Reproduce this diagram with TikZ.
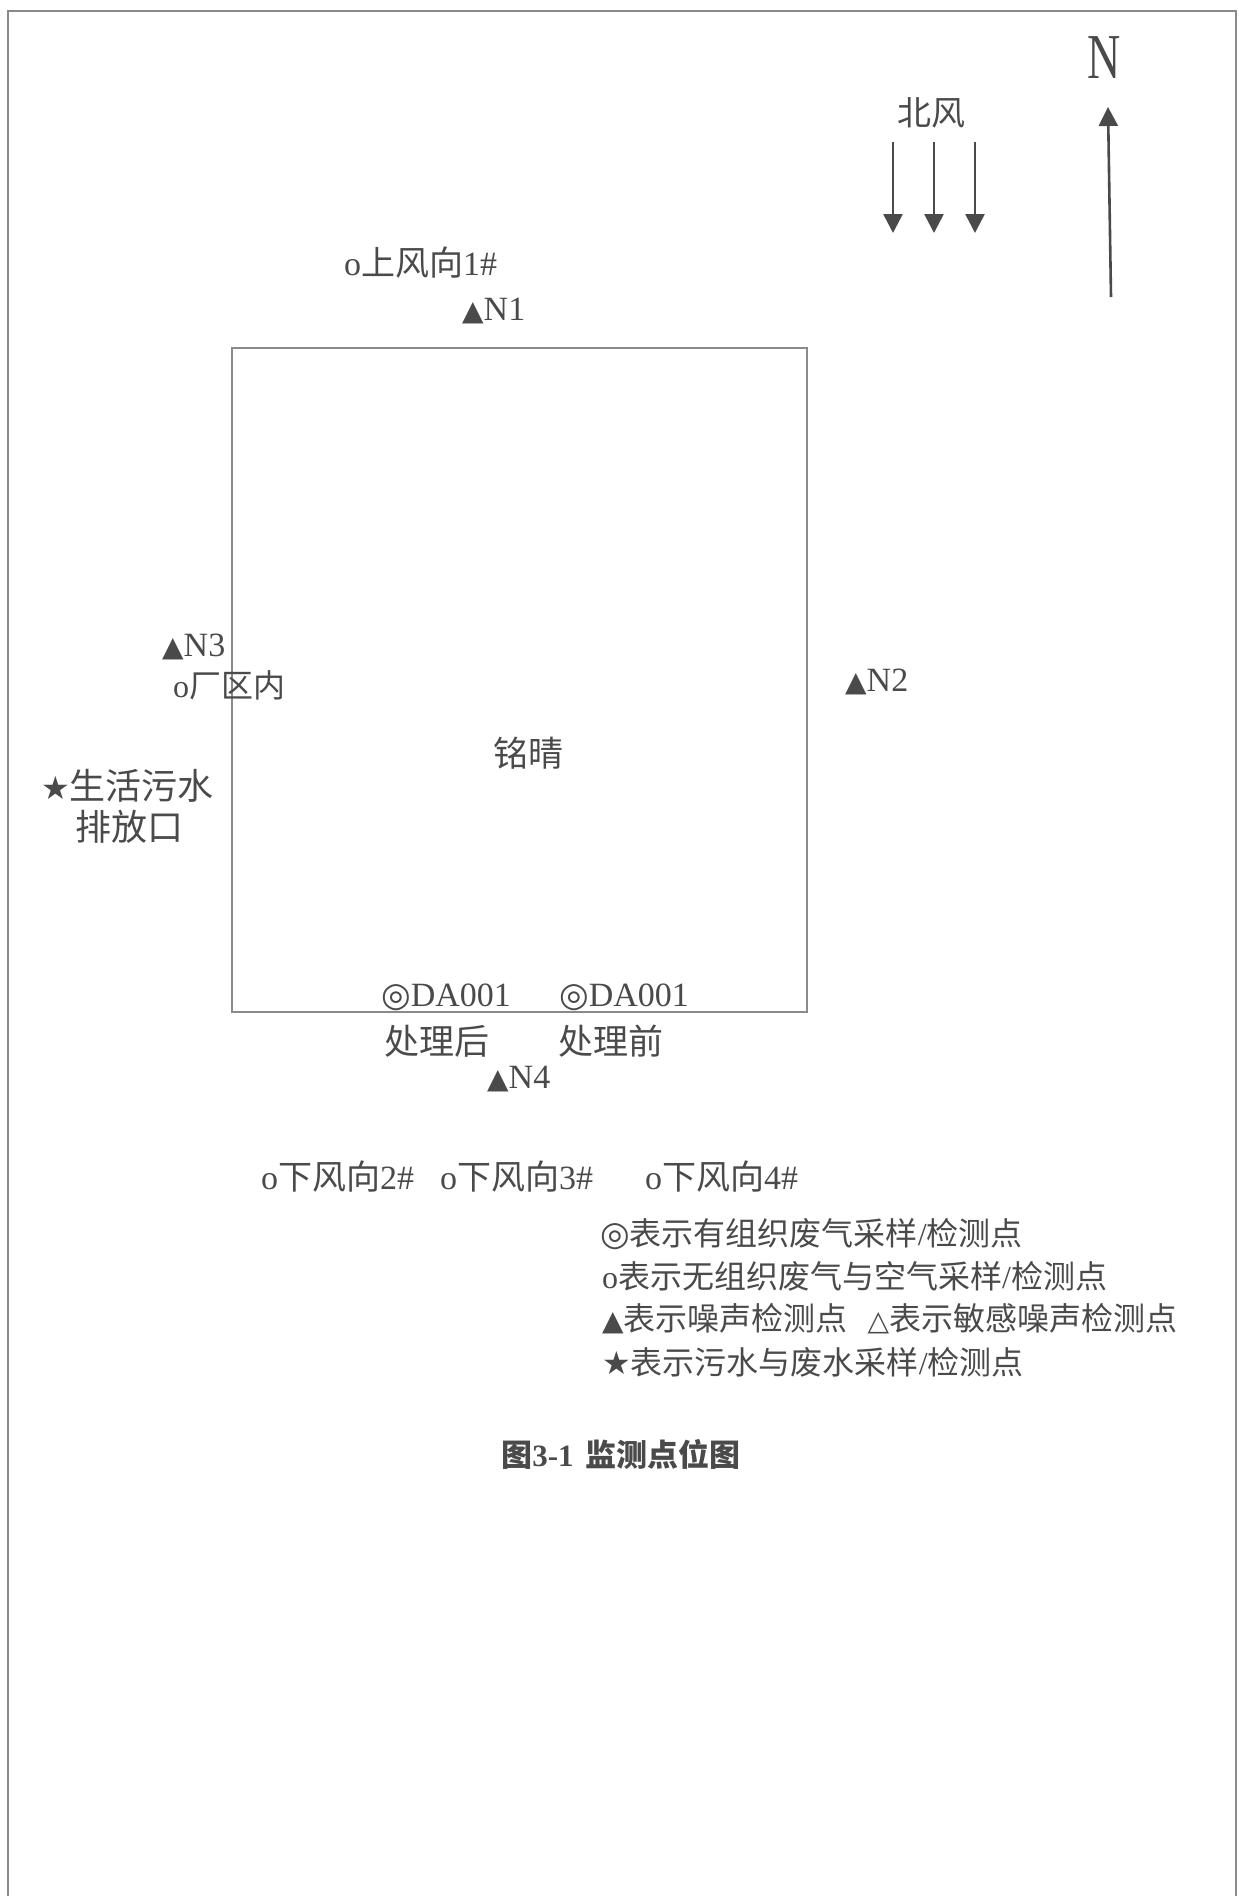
\documentclass[tikz,border=0pt]{standalone}
\usepackage{fontspec}
\setmainfont{Liberation Serif}
\newfontfamily\cjk{Noto Sans CJK SC}
\newfontfamily\sym{DejaVu Sans}
\newfontfamily\nfont[FakeStretch=0.72]{Liberation Serif}
\usetikzlibrary{arrows.meta}
\definecolor{ink}{HTML}{4A4A4A}
\definecolor{frame}{HTML}{8A8A8A}
\newcommand{\tri}{{\sym\fontsize{28}{28}\selectfont ▲}}
\newcommand{\otri}{{\sym\fontsize{28}{28}\selectfont △}}
\newcommand{\dcirc}{{\sym\fontsize{34}{34}\selectfont ◎}}
\newcommand{\bstar}{{\sym\fontsize{32}{32}\selectfont ★}}
\begin{document}
\begin{tikzpicture}[x=1pt,y=-1pt,
  lbl/.style={anchor=west,inner sep=0pt,text=ink,font=\fontsize{34}{36}\selectfont},
  leg/.style={anchor=west,inner sep=0pt,text=ink,font=\fontsize{32}{34}\selectfont},
  windarrow/.style={draw=ink,line width=2.6pt,-{Triangle[length=19pt,width=19pt]}},
  framel/.style={draw=frame,line width=2pt}]
\useasboundingbox (0,0) rectangle (1239,1896);
% outer frame
\draw[framel] (8,1896) -- (8,11) -- (1236,11) -- (1236,1896);
% plant boundary
\draw[draw=frame,line width=2pt] (232,348) rectangle (807,1012);
% north
\node[inner sep=0pt,text=ink,font=\nfont\fontsize{64}{64}\selectfont] (N) at (1104,58) {N};
\coordinate (ns) at (1111,297);
\coordinate (ne) at (1108,107);
\draw[windarrow] (ns) -- (ne);
% wind
\node[inner sep=0pt,text=ink,font=\cjk\fontsize{34}{36}\selectfont] (wind) at (931,113) {北风};
\coordinate (w1s) at (893,142); \coordinate (w1e) at (893,233);
\coordinate (w2s) at (934,142); \coordinate (w2e) at (934,233);
\coordinate (w3s) at (975,142); \coordinate (w3e) at (975,233);
\draw[windarrow] (w1s) -- (w1e);
\draw[windarrow] (w2s) -- (w2e);
\draw[windarrow] (w3s) -- (w3e);
% labels
\node[lbl] (up1) at (344,263) {o{\cjk 上风向}1\#};
\node[lbl] (n1) at (462,311) {\tri N1};
\node[lbl] (n3) at (162,647) {\tri N3};
\node[lbl,font=\fontsize{32}{34}\selectfont] (inside) at (173,685) {o{\cjk 厂区内}};
\node[lbl,font=\cjk\fontsize{36}{38}\selectfont] (ww1) at (41,786) {\bstar 生活污水};
\node[lbl,font=\cjk\fontsize{36}{38}\selectfont] (ww2) at (75,827) {排放口};
\node[lbl] (n2) at (845,682) {\tri N2};
\node[inner sep=0pt,text=ink,font=\cjk\fontsize{35}{36}\selectfont] (plant) at (528,753) {铭晴};
\node[lbl] (da1) at (381,997) {\dcirc DA001};
\node[lbl] (da2) at (559,997) {\dcirc DA001};
\node[lbl,font=\cjk\fontsize{35}{36}\selectfont] (after) at (384,1041) {处理后};
\node[lbl,font=\cjk\fontsize{35}{36}\selectfont] (before) at (558,1041) {处理前};
\node[lbl] (n4) at (487,1079) {\tri N4};
\node[lbl] (dn2) at (261,1177) {o{\cjk 下风向}2\#};
\node[lbl] (dn3) at (440,1177) {o{\cjk 下风向}3\#};
\node[lbl] (dn4) at (645,1177) {o{\cjk 下风向}4\#};
% legend
\node[leg] (l1) at (600,1234) {\dcirc{\cjk 表示有组织废气采样}/{\cjk 检测点}};
\node[leg] (l2) at (602,1276) {o{\cjk 表示无组织废气与空气采样}/{\cjk 检测点}};
\node[leg] (l3) at (602,1319) {\tri{\cjk 表示噪声检测点}\hspace{20pt}\otri{\cjk 表示敏感噪声检测点}};
\node[leg] (l4) at (602,1362) {\bstar{\cjk 表示污水与废水采样}/{\cjk 检测点}};
% caption
\node[inner sep=0pt,text=ink,font=\bfseries\fontsize{31}{32}\selectfont] (cap) at (621,1454) {{\cjk\bfseries 图}3-1\hspace{12pt}{\cjk\bfseries 监测点位图}};
\end{tikzpicture}
\end{document}
